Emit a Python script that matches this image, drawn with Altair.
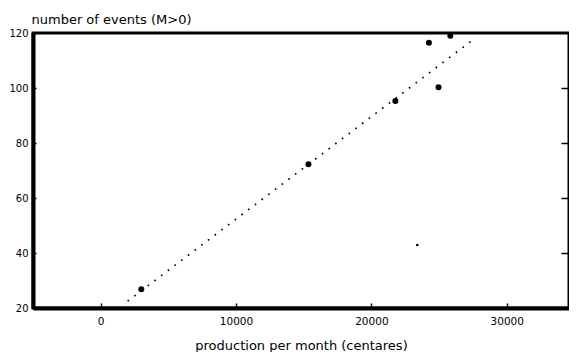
import altair as alt
import pandas as pd

# values
star_x = [3000, 15350, 21770, 24250, 24960, 25830]
star_y = [26.8, 72.3, 95.3, 116.5, 100.3, 119.0]
dot_x = [23390]
dot_y = [42.9]
fit_x = [1990, 27550]
fit_y = [22.5, 117.7]
x_ticks = [0, 10000, 20000, 30000]
y_ticks = [20, 40, 60, 80, 100, 120]

W, H = 536, 275
FONT = "DejaVu Sans"
xscale = alt.Scale(domain=[-5000, 34600], nice=False, zero=False)
yscale = alt.Scale(domain=[20, 120], nice=False, zero=False)

stars = pd.DataFrame({"x": star_x, "y": star_y})
dots = pd.DataFrame({"x": dot_x, "y": dot_y})
fit = pd.DataFrame({"x": fit_x, "y": fit_y})

# main axes: thick domain lines, labels, titles
x_main = alt.Axis(orient="bottom", values=x_ticks, format="d", domain=True,
                  domainColor="black", domainWidth=4, ticks=False, grid=False,
                  labelFont=FONT, labelFontSize=10.5, labelColor="black",
                  labelPadding=8, title="production per month (centares)",
                  titleFont=FONT, titleFontSize=13, titleFontWeight="normal",
                  titleColor="black", titleBaseline="alphabetic", titleY=41)
y_main = alt.Axis(orient="left", values=y_ticks, format="d", domain=True,
                  domainColor="black", domainWidth=4, ticks=False, grid=False,
                  labelFont=FONT, labelFontSize=10, labelColor="black",
                  labelPadding=5, title="number of events (M>0)",
                  titleFont=FONT, titleFontSize=13, titleFontWeight="normal",
                  titleColor="black", titleAngle=0, titleAlign="left",
                  titleBaseline="alphabetic", titleX=-2, titleY=-10)

# inward ticks on bottom and left
x_in = alt.Axis(orient="top", offset=-H, values=x_ticks, domain=False,
                labels=False, ticks=True, tickSize=5, tickWidth=1.5,
                tickColor="black", grid=False, title=None)
y_in = alt.Axis(orient="right", offset=-W, values=y_ticks, domain=False,
                labels=False, ticks=True, tickSize=3, tickWidth=1.5,
                tickColor="black", grid=False, title=None)
# inward ticks on the right edge
y_right = alt.Axis(orient="left", offset=-W, values=y_ticks[1:-1], domain=False,
                   labels=False, ticks=True, tickSize=8, tickWidth=1.5,
                   tickColor="black", grid=False, title=None)

line = alt.Chart(fit).mark_line(color="black", strokeWidth=1.7,
                                strokeDash=[1.6, 6.8]).encode(
    x=alt.X("x:Q", scale=xscale, axis=x_in),
    y=alt.Y("y:Q", scale=yscale, axis=y_in),
)

pts = alt.Chart(stars).mark_point(filled=True, shape="circle", size=36,
                                  color="black", opacity=1).encode(
    x=alt.X("x:Q", scale=xscale, axis=x_main),
    y=alt.Y("y:Q", scale=yscale, axis=y_main),
)

small = alt.Chart(dots).mark_point(filled=True, shape="square", size=5,
                                   color="black", opacity=1).encode(
    x=alt.X("x:Q", scale=xscale, axis=None),
    y=alt.Y("y:Q", scale=yscale, axis=y_right),
)

chart = alt.layer(line, small, pts).resolve_axis(
    x="independent", y="independent"
).properties(
    width=W, height=H,
    autosize=alt.AutoSizeParams(type="none"),
    padding={"left": 25, "top": 25, "right": 0, "bottom": 44},
    background="white",
).configure_view(stroke="black", strokeWidth=3)

chart.save("out.html", embed_options={"renderer": "svg", "actions": False})
